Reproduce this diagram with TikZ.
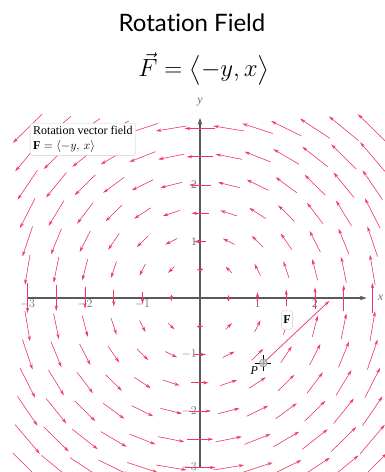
\documentclass[tikz,border=0pt]{standalone}
\usepackage{amsmath}
\usepackage{xcolor}
\usepackage{fontspec}
\setmainfont{Liberation Serif}
\newfontfamily\titlefont[Ligatures=NoCommon]{Lato}
\usetikzlibrary{arrows.meta,positioning,calc}
\definecolor{fieldred}{RGB}{240,58,100}
\definecolor{axisgray}{RGB}{90,90,90}
\definecolor{ticktext}{RGB}{105,110,120}
\tikzset{
  fieldarr/.style={-{Stealth[length=5.5pt,width=3.2pt]}, line width=0.55pt, draw=fieldred, fill=fieldred},
  axisarr/.style={-{Stealth[length=7pt,width=4.5pt]}, line width=1.1pt, draw=axisgray},
  roundbox/.style={draw=gray!40, fill=white, rounded corners=3pt, inner sep=3pt},
  ticklab/.style={font=\fontsize{11.5}{12}\selectfont, text=ticktext, inner sep=1pt},
}

\begin{document}
\begin{tikzpicture}[
  x=57.5pt, y=56.5pt,
  tick/.style={line width=0.6pt, draw=axisgray},
]
  \useasboundingbox (-200pt,-174pt) rectangle (185pt,298pt);

  \node[font=\titlefont\fontsize{24}{28}\selectfont, inner sep=0pt] (title) at (-8pt,275pt) {Rotation Field};
  \node[font=\fontsize{26}{30}\selectfont, inner sep=0pt] (formula) at (4pt,229pt)
    {$\vec{F}=\bigl\langle -y,x\bigr\rangle$};

  \draw[axisarr] (-3,0) -- (2.9,0);
  \draw[axisarr] (0,-3) -- (0,3.19);
  \node[ticklab, font=\itshape\fontsize{12}{12}\selectfont] (xlab) at (3.14,0) {x};
  \node[ticklab, font=\itshape\fontsize{12}{12}\selectfont] (ylab) at (0,3.46) {y};

  \foreach \t/\lab in {-3/$-3$,-2/$-2$,-1/$-1$,1/1,2/2} {
    \draw[tick] (\t,-0.05) -- (\t,0.05);
    \node[ticklab, below=1pt] at (\t,0) {\lab};
  }
  \foreach \t/\lab in {-3/$-3$,-2/$-2$,-1/$-1$,1/1,2/2} {
    \draw[tick] (-0.05,\t) -- (0.05,\t);
    \node[ticklab, left=2pt] at (0,\t) {\lab};
  }

  \foreach \px in {-3,-2.5,...,3.1}
    \foreach \py in {-3,-2.5,...,3.1} {
      \pgfmathsetmacro\r{sqrt(\px*\px+\py*\py)}
      \ifdim\r pt>0.01pt
        \pgfmathsetmacro\k{0.21*\r^0.85/\r}
        \draw[fieldarr] ({\px+\py*\k/2},{\py-\px*\k/2}) -- ({\px-\py*\k/2},{\py+\px*\k/2});
      \fi
    }

  \node[roundbox, anchor=north west, align=left, font=\fontsize{12}{15}\selectfont]
    (legend) at (-170pt,175pt)
    {Rotation vector field\\ $\mathbf{F}=\langle -y,\, x\rangle$};

  \coordinate (P) at (1.1,-1.15);
  \coordinate (Ftip) at ($(P)+(1.15,1.1)$);
  \draw[fieldarr, line width=0.7pt] (P) -- (Ftip);
  \draw[line width=0.6pt, black] ($(P)+(-8pt,0)$) -- ($(P)+(8pt,0)$)
                                 ($(P)+(0,-8pt)$) -- ($(P)+(0,8pt)$);
  \node[circle, draw=gray!80!black, fill=gray!45, minimum size=8pt, inner sep=0pt,
        opacity=0.8] (Pdot) at (P) {};
  \node[font=\itshape\fontsize{12}{12}\selectfont, anchor=north east, inner sep=0pt]
    (Plab) at ($(P)+(-5pt,-3pt)$) {P};
  \node[roundbox, inner sep=2pt, minimum height=19pt, font=\bfseries\fontsize{12}{12}\selectfont]
    (Flab) at (87pt,-22pt) {F};
\end{tikzpicture}
\end{document}
